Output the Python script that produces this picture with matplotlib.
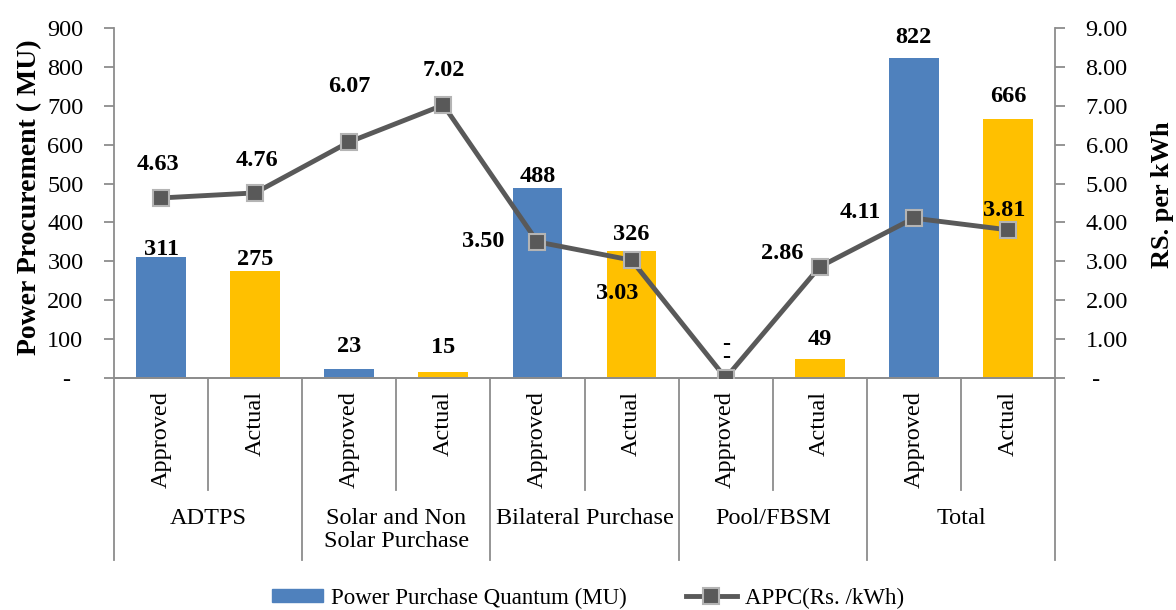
import matplotlib
matplotlib.use("Agg")
import matplotlib.pyplot as plt
import matplotlib.transforms as mtransforms
from matplotlib.lines import Line2D
from matplotlib.patches import Patch

plt.rcParams['font.family'] = ['Liberation Serif', 'DejaVu Serif']

groups = ["ADTPS", "Solar and Non\nSolar Purchase", "Bilateral Purchase", "Pool/FBSM", "Total"]
subcats = ["Approved", "Actual"]
quantum = [311, 275, 23, 15, 488, 326, 0, 49, 822, 666]
quantum_labels = ["311", "275", "23", "15", "488", "326", "-", "49", "822", "666"]
appc = [4.63, 4.76, 6.07, 7.02, 3.50, 3.03, 0.0, 2.86, 4.11, 3.81]
appc_labels = ["4.63", "4.76", "6.07", "7.02", "3.50", "3.03", "-", "2.86", "4.11", "3.81"]
left_ticks = [0, 100, 200, 300, 400, 500, 600, 700, 800, 900]
left_ticklabels = ["-  ", "100", "200", "300", "400", "500", "600", "700", "800", "900"]
right_ticks = [0, 1, 2, 3, 4, 5, 6, 7, 8, 9]
right_ticklabels = [" -", "1.00", "2.00", "3.00", "4.00", "5.00", "6.00", "7.00", "8.00", "9.00"]

blue = "#4F81BD"
gold = "#FFC000"
gray = "#595959"
axis_gray = "#8C8C8C"
FS = 17.5

fig = plt.figure(figsize=(11.76, 6.10), dpi=100)
ax = fig.add_axes([114/1176, 1 - 378/610, (1055-114)/1176, (378-28)/610])
ax2 = ax.twinx()

n = len(quantum)
xs = list(range(n))
colors = [blue if i % 2 == 0 else gold for i in range(n)]
ax.bar(xs, quantum, width=0.53, color=colors, zorder=2)
ax.set_xlim(-0.5, n - 0.5)
ax.set_ylim(0, 900)
ax2.set_ylim(0, 9)

ax.set_yticks(left_ticks)
ax.set_yticklabels(left_ticklabels, fontsize=FS)
ax2.set_yticks(right_ticks)
ax2.set_yticklabels(right_ticklabels, fontsize=FS)
ax.set_xticks([])
for a in (ax, ax2):
    for s in a.spines.values():
        s.set_color(axis_gray)
        s.set_linewidth(1.3)
    a.spines['top'].set_visible(False)
    a.tick_params(axis='y', length=7, width=1.3, color=axis_gray, pad=15)
ax.spines['right'].set_visible(False)
ax2.spines['left'].set_visible(False)

def fy(py):
    return 1 - py / 610

fig.text(30/1176, fy(197), "Power Procurement ( MU)", rotation=90, ha='center', va='center',
         fontsize=20, fontweight='bold')
fig.text(1162/1176, fy(195), "RS. per kWh", rotation=90, ha='center', va='center',
         fontsize=19, fontweight='bold')

# line
ax2.plot(xs, appc, color=gray, lw=3.5, marker='s', markersize=12,
         markerfacecolor=gray, markeredgecolor="#B4B4B4", markeredgewidth=1.5, zorder=5)

PX = 0.72  # points per pixel
# bar labels: gap above bar (px) to text baseline
bar_gaps = [2, 6, 17, 19, 6, 11, 0, 14, 15, 17]
for i, (v, lab) in enumerate(zip(quantum, quantum_labels)):
    if i == 6:
        # bar label "-" and line label "-" stack into one mark in the source
        ax.annotate(lab + "\n" + appc_labels[i], (i, v), xytext=(0, 27 * PX),
                    textcoords='offset points', ha='center', va='center', fontsize=FS,
                    fontweight='bold', linespacing=0.45, zorder=7)
        continue
    ax.annotate(lab, (i, v), xytext=(0, bar_gaps[i] * PX), textcoords='offset points',
                ha='center', va='baseline', fontsize=FS, fontweight='bold')

# line labels offsets (px, up positive)
offs = [(-3, 33), (2, 32), (0, 55), (0, 35), (-54, 0), (-14, -33), (0, 0), (-38, 13), (-54, 6), (-4, 19)]
for i, (v, lab) in enumerate(zip(appc, appc_labels)):
    if i == 6:
        continue
    dx, dy = offs[i]
    ax2.annotate(lab, (i, v), xytext=(dx * PX, dy * PX), textcoords='offset points', ha='center',
                 va='center', fontsize=FS, fontweight='bold', zorder=6)

# x-axis category structure
trans = mtransforms.blended_transform_factory(ax.transData, fig.transFigure)
for i in range(n + 1):
    x = i - 0.5
    bottom = 560 if i % 2 == 0 else 490
    ax.add_line(Line2D([x, x], [fy(378), fy(bottom)], transform=trans, color=axis_gray,
                       lw=1.3, clip_on=False))
for i in range(n):
    ax.text(i, fy(391), subcats[i % 2], transform=trans, rotation=90, ha='center', va='top',
            fontsize=FS)
for g, name in enumerate(groups):
    ax.text(2 * g + 0.5, fy(508), name, transform=trans, ha='center', va='top', fontsize=FS,
            linespacing=1.15)

handles = [Patch(facecolor=blue, edgecolor=blue),
           Line2D([], [], color=gray, lw=3.5, marker='s', markersize=12,
                  markerfacecolor=gray, markeredgecolor="#B4B4B4", markeredgewidth=1.5)]
fig.legend(handles, ["Power Purchase Quantum (MU)", "APPC(Rs. /kWh)"], loc='center',
           bbox_to_anchor=(0.5, fy(598)), ncol=2, frameon=False, fontsize=16.5,
           handlelength=2.2, handleheight=0.5, handletextpad=0.35, columnspacing=2.6)

fig.savefig("out.png", dpi=100)
